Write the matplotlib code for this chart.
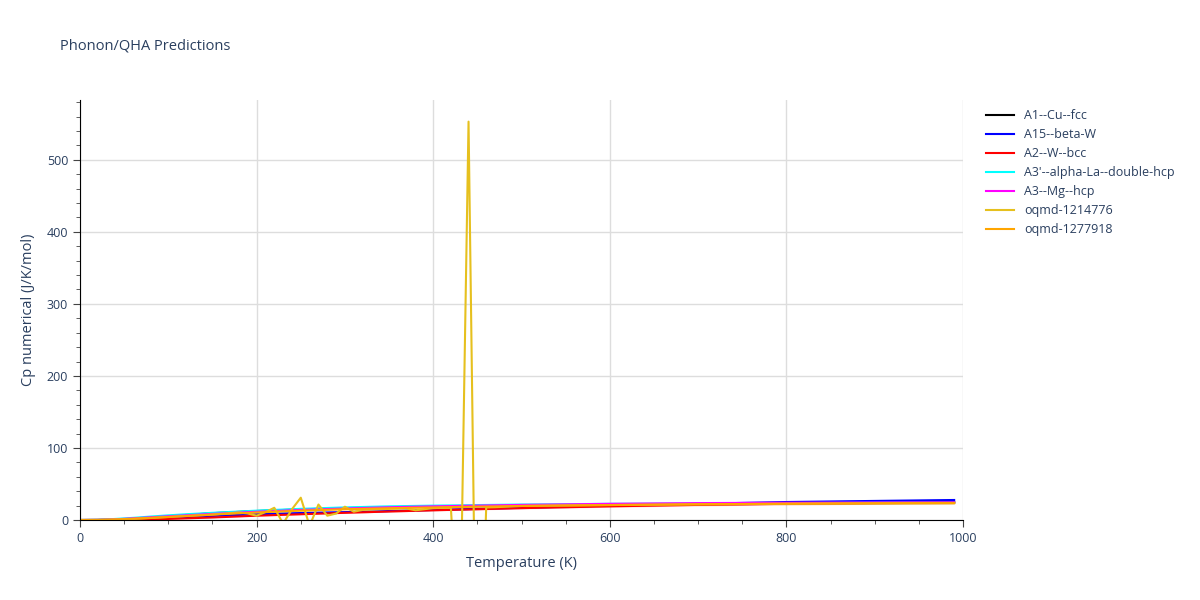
import matplotlib
matplotlib.use("Agg")
import matplotlib.pyplot as plt
from matplotlib.ticker import MultipleLocator

plt.rcParams["font.family"] = ["Open Sans", "DejaVu Sans"]

# smooth curves share one temperature grid (K)
temps = [0, 20, 40, 60, 80, 100, 120, 150, 200, 250, 300, 350, 400, 500,
         600, 700, 800, 900, 990]

cp_a1_cu = [0, 0.1, 0.6, 1.8, 3.5, 5.3, 7.0, 9.5, 12.5, 14.8, 16.5, 17.8, 18.8, 20.2,
            21.3, 22.3, 23.5, 24.3, 25.0]
cp_a15_w = [0, 0.05, 0.3, 0.9, 1.8, 2.9, 4.0, 5.6, 8.0, 9.7, 11.0, 12.5, 14.0, 17.0,
            20.0, 22.5, 25.0, 26.5, 27.8]
cp_a2_w = [0, 0.05, 0.2, 0.5, 1.0, 1.5, 2.3, 3.5, 6.0, 8.0, 10.0, 11.8, 13.5, 16.5,
           19.0, 21.0, 22.5, 23.5, 24.0]
cp_a3p_la = [0, 0.3, 1.5, 3.0, 4.8, 6.5, 8.0, 10.0, 13.0, 15.5, 17.5, 19.0, 20.0, 21.5,
             22.5, 23.0, 23.5, 24.0, 24.3]
cp_a3_mg = [0, 0.2, 1.0, 2.3, 3.8, 5.2, 6.5, 8.5, 11.5, 14.0, 16.0, 17.7, 19.0, 21.0,
            22.5, 23.5, 24.0, 24.3, 24.5]
cp_oqmd_1277918 = [0, 0.2, 0.8, 1.8, 3.0, 4.2, 5.5, 7.5, 10.5, 13.0, 15.0, 16.4, 17.5, 19.5,
                   20.8, 21.8, 22.6, 23.2, 23.5]

# the noisy one is on a 10 K grid
temps_1214776 = [0, 20, 40, 60, 80, 100, 120, 140, 150, 160, 170, 180, 190, 200, 210,
                 220, 230, 240, 250, 260, 270, 280, 290, 300, 310, 320, 340, 360, 370,
                 380, 390, 400, 410, 420, 430, 440, 450, 460, 470, 500, 600, 700, 800,
                 900, 990]
cp_oqmd_1214776 = [0, 0.1, 0.6, 1.5, 2.8, 4.2, 5.6, 6.8, 7.5, 8.5, 9.5, 10.5, 9.0, 6.0, 11.0,
                   17.0, -5.0, 15.0, 31.0, -8.0, 21.5, 6.0, 9.0, 18.5, 11.5, 14.0, 15.0,
                   15.8, 16.0, 13.5, 15.0, 16.5, 17.0, 17.0, -194.0, 553.0, -368.0, 17.5,
                   17.8, 19.5, 20.8, 21.8, 22.6, 23.2, 23.5]

series = [
    ("A1--Cu--fcc", temps, cp_a1_cu, "black"),
    ("A15--beta-W", temps, cp_a15_w, "blue"),
    ("A2--W--bcc", temps, cp_a2_w, "red"),
    ("A3'--alpha-La--double-hcp", temps, cp_a3p_la, "cyan"),
    ("A3--Mg--hcp", temps, cp_a3_mg, "magenta"),
    ("oqmd-1214776", temps_1214776, cp_oqmd_1214776, "#e6c01e"),
    ("oqmd-1277918", temps, cp_oqmd_1277918, "orange"),
]

text_color = "#2a3f5f"
fig = plt.figure(figsize=(12, 6), dpi=100)
ax = fig.add_axes([0.0667, 0.1333, 0.7358, 0.7])

for name, t, cp, color in series:
    if t is temps:
        lo = [v * 0.93 for v in cp]
        hi = [v * 1.05 for v in cp]
        ax.fill_between(t, lo, hi, color=color, alpha=0.2, linewidth=0)
    ax.plot(t, cp, color=color, linewidth=1.5, label=name)

ax.set_xlim(0, 1000)
ax.set_ylim(0, 583)
ax.xaxis.set_major_locator(MultipleLocator(200))
ax.xaxis.set_minor_locator(MultipleLocator(50))
ax.yaxis.set_major_locator(MultipleLocator(100))
ax.yaxis.set_minor_locator(MultipleLocator(20))
ax.grid(True, which="major", color="#dddddd", linewidth=1)
ax.set_axisbelow(True)
for side in ("top", "right"):
    ax.spines[side].set_visible(False)
for side in ("left", "bottom"):
    ax.spines[side].set_color("black")
ax.tick_params(which="major", direction="out", length=5, color="#444444",
               labelsize=9, labelcolor=text_color)
ax.tick_params(which="minor", direction="out", length=3, color="#444444")

ax.set_xlabel("Temperature (K)", fontsize=10.5, color=text_color, labelpad=8)
ax.set_ylabel("Cp numerical (J/K/mol)", fontsize=10.5, color=text_color, labelpad=8)
fig.text(0.05, 0.917, "Phonon/QHA Predictions", fontsize=10.5, color=text_color)

leg = ax.legend(loc="upper left", bbox_to_anchor=(1.02, 0.99), frameon=False,
                fontsize=9, handlelength=2.3, labelspacing=0.48, borderaxespad=0)
for txt in leg.get_texts():
    txt.set_color(text_color)

fig.savefig("out.png", dpi=100)
